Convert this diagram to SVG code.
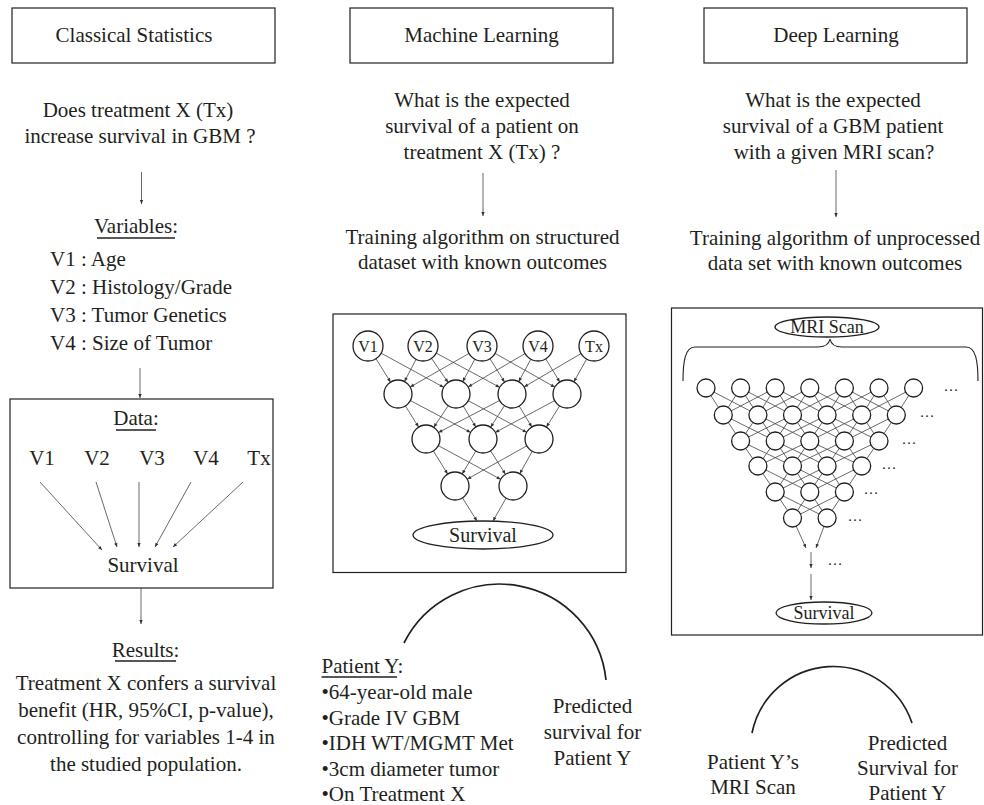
<svg xmlns="http://www.w3.org/2000/svg" width="984" height="805" viewBox="0 0 984 805">
<style>
.t{font-family:"Liberation Serif","Times New Roman",serif;font-size:21px;fill:#231f20}
.m{text-anchor:middle}
.s16{font-size:16px}
.s18{font-size:18px}
.s20{font-size:20px}
.dots{font-size:15px;text-anchor:middle}
.box{fill:none;stroke:#231f20;stroke-width:1.2}
.ln{stroke:#444;stroke-width:0.8;fill:none}
.node{fill:#fff;stroke:#231f20;stroke-width:1.3}
.ul{stroke:#231f20;stroke-width:1.6}
.arc{fill:none;stroke:#231f20;stroke-width:1.7}
</style>
<defs>
<marker id="ah" overflow="visible" markerUnits="userSpaceOnUse" orient="auto"><path d="M-4,-1.7 L0,0 L-4,1.7 z" fill="#333"/></marker>
<marker id="ah14" overflow="visible" markerUnits="userSpaceOnUse" orient="auto" refX="14" refY="0"><path d="M-4,-1.7 L0,0 L-4,1.7 z" fill="#333"/></marker>
</defs>
<rect width="984" height="805" fill="#fff"/>

<g id="connectors">
<!-- classical -->
<line class="ln" x1="141.5" y1="172" x2="141.5" y2="204" marker-end="url(#ah)"/>
<line class="ln" x1="140" y1="368" x2="140" y2="398" marker-end="url(#ah)"/>
<line class="ln" x1="141" y1="588" x2="141" y2="624" marker-end="url(#ah)"/>
<line class="ln" x1="40" y1="482" x2="102" y2="550" marker-end="url(#ah)"/>
<line class="ln" x1="96" y1="482" x2="117" y2="547" marker-end="url(#ah)"/>
<line class="ln" x1="139" y1="482" x2="139" y2="547" marker-end="url(#ah)"/>
<line class="ln" x1="191" y1="482" x2="155" y2="547" marker-end="url(#ah)"/>
<line class="ln" x1="243" y1="482" x2="173" y2="547" marker-end="url(#ah)"/>
<!-- ML -->
<line class="ln" x1="483" y1="173" x2="483" y2="216" marker-end="url(#ah)"/>
<g marker-end="url(#ah14)">
<line class="ln" x1="368" y1="346" x2="398" y2="394"/>
<line class="ln" x1="368" y1="346" x2="456" y2="394"/>
<line class="ln" x1="423" y1="346" x2="398" y2="394"/>
<line class="ln" x1="423" y1="346" x2="456" y2="394"/>
<line class="ln" x1="423" y1="346" x2="512" y2="394"/>
<line class="ln" x1="482" y1="346" x2="398" y2="394"/>
<line class="ln" x1="482" y1="346" x2="456" y2="394"/>
<line class="ln" x1="482" y1="346" x2="512" y2="394"/>
<line class="ln" x1="482" y1="346" x2="567" y2="394"/>
<line class="ln" x1="538" y1="346" x2="456" y2="394"/>
<line class="ln" x1="538" y1="346" x2="512" y2="394"/>
<line class="ln" x1="538" y1="346" x2="567" y2="394"/>
<line class="ln" x1="594" y1="346" x2="512" y2="394"/>
<line class="ln" x1="594" y1="346" x2="567" y2="394"/>
<line class="ln" x1="398" y1="394" x2="426" y2="439"/>
<line class="ln" x1="398" y1="394" x2="483" y2="439"/>
<line class="ln" x1="456" y1="394" x2="426" y2="439"/>
<line class="ln" x1="456" y1="394" x2="483" y2="439"/>
<line class="ln" x1="456" y1="394" x2="539" y2="439"/>
<line class="ln" x1="512" y1="394" x2="426" y2="439"/>
<line class="ln" x1="512" y1="394" x2="483" y2="439"/>
<line class="ln" x1="512" y1="394" x2="539" y2="439"/>
<line class="ln" x1="567" y1="394" x2="483" y2="439"/>
<line class="ln" x1="567" y1="394" x2="539" y2="439"/>
<line class="ln" x1="426" y1="439" x2="455" y2="486"/>
<line class="ln" x1="426" y1="439" x2="513" y2="486"/>
<line class="ln" x1="483" y1="439" x2="455" y2="486"/>
<line class="ln" x1="483" y1="439" x2="513" y2="486"/>
<line class="ln" x1="539" y1="439" x2="455" y2="486"/>
<line class="ln" x1="539" y1="439" x2="513" y2="486"/>
</g>
<line class="ln" x1="455" y1="486" x2="477" y2="521" marker-end="url(#ah)"/>
<line class="ln" x1="513" y1="486" x2="493" y2="521" marker-end="url(#ah)"/>
<!-- DL -->
<line class="ln" x1="836" y1="170" x2="836" y2="217" marker-end="url(#ah)"/>
<path class="ln" d="M706 388L723.3 415M706 388L757.9 415M740.6 388L723.3 415M740.6 388L757.9 415M740.6 388L792.5 415M775.2 388L723.3 415M775.2 388L757.9 415M775.2 388L792.5 415M775.2 388L827.1 415M809.8 388L757.9 415M809.8 388L792.5 415M809.8 388L827.1 415M809.8 388L861.7 415M844.4 388L792.5 415M844.4 388L827.1 415M844.4 388L861.7 415M844.4 388L896.3 415M879 388L827.1 415M879 388L861.7 415M879 388L896.3 415M913.6 388L861.7 415M913.6 388L896.3 415"/>
<path class="ln" d="M723.3 415L740.6 441M723.3 415L775.2 441M757.9 415L740.6 441M757.9 415L775.2 441M757.9 415L809.8 441M792.5 415L740.6 441M792.5 415L775.2 441M792.5 415L809.8 441M792.5 415L844.4 441M827.1 415L775.2 441M827.1 415L809.8 441M827.1 415L844.4 441M827.1 415L879 441M861.7 415L809.8 441M861.7 415L844.4 441M861.7 415L879 441M896.3 415L844.4 441M896.3 415L879 441"/>
<path class="ln" d="M740.6 441L757.9 466M740.6 441L792.5 466M775.2 441L757.9 466M775.2 441L792.5 466M775.2 441L827.1 466M809.8 441L757.9 466M809.8 441L792.5 466M809.8 441L827.1 466M809.8 441L861.7 466M844.4 441L792.5 466M844.4 441L827.1 466M844.4 441L861.7 466M879 441L827.1 466M879 441L861.7 466"/>
<path class="ln" d="M757.9 466L775.2 492M757.9 466L809.8 492M792.5 466L775.2 492M792.5 466L809.8 492M792.5 466L844.4 492M827.1 466L775.2 492M827.1 466L809.8 492M827.1 466L844.4 492M861.7 466L809.8 492M861.7 466L844.4 492"/>
<path class="ln" d="M775.2 492L792.5 518M775.2 492L827.1 518M809.8 492L792.5 518M809.8 492L827.1 518M844.4 492L792.5 518M844.4 492L827.1 518"/>
<line class="ln" x1="792.5" y1="518" x2="806" y2="548" marker-end="url(#ah)"/>
<line class="ln" x1="827.1" y1="518" x2="816" y2="548" marker-end="url(#ah)"/>
<line class="ln" x1="811" y1="552" x2="811" y2="568" marker-end="url(#ah)"/>
<line class="ln" x1="811" y1="574" x2="811" y2="600" marker-end="url(#ah)"/>
<path class="ln" style="stroke:#231f20;stroke-width:1.1" d="M683 381C683 362 685 347 695 347L818 347C825 347 829 344 830 339C831 344 835 347 842 347L966 347C976 347 978 362 978 381"/>
<!-- arcs -->
<path class="arc" d="M404 643A107 107 0 0 1 606 680"/>
<path class="arc" d="M752 733A83 83 0 0 1 912 723"/>
</g>

<!-- Classical statistics column -->
<g id="cs-title"><rect class="box" x="12" y="8" width="263" height="55"/><text class="t m" x="134" y="42">Classical Statistics</text></g>
<g id="cs-question"><text class="t m" x="138" y="117">Does treatment X (Tx)</text><text class="t m" x="140" y="143">increase survival in GBM ?</text></g>
<g id="cs-variables">
<text class="t m" x="136" y="233">Variables:</text><line class="ul" x1="97" y1="238" x2="175" y2="238"/>
<text class="t" x="50" y="266">V1 : Age</text>
<text class="t" x="50" y="294">V2 : Histology/Grade</text>
<text class="t" x="50" y="322">V3 : Tumor Genetics</text>
<text class="t" x="50" y="350">V4 : Size of Tumor</text>
</g>
<g id="cs-data">
<rect class="box" x="10" y="399" width="263" height="189"/>
<text class="t m" x="136" y="425">Data:</text><line class="ul" x1="116" y1="430" x2="156" y2="430"/>
<text class="t m" x="42" y="465">V1</text>
<text class="t m" x="97" y="465">V2</text>
<text class="t m" x="152" y="465">V3</text>
<text class="t m" x="206" y="465">V4</text>
<text class="t m" x="259" y="465">Tx</text>
<text class="t m" x="143" y="572">Survival</text>
</g>
<g id="cs-results">
<text class="t m" x="145.5" y="657">Results:</text><line class="ul" x1="115" y1="661" x2="176" y2="661"/>
<text class="t m" x="146" y="690">Treatment X confers a survival</text>
<text class="t m" x="146" y="717">benefit (HR, 95%CI, p-value),</text>
<text class="t m" x="146" y="744">controlling for variables 1-4 in</text>
<text class="t m" x="146" y="771">the studied population.</text>
</g>

<!-- Machine learning column -->
<g id="ml-title"><rect class="box" x="350" y="8" width="263" height="55"/><text class="t m" x="481.5" y="42">Machine Learning</text></g>
<g id="ml-question">
<text class="t m" x="482" y="107">What is the expected</text>
<text class="t m" x="482" y="133">survival of a patient on</text>
<text class="t m" x="482" y="159">treatment X (Tx) ?</text>
</g>
<g id="ml-training">
<text class="t m" x="482.5" y="244">Training algorithm on structured</text>
<text class="t m" x="482.5" y="269">dataset with known outcomes</text>
</g>
<g id="ml-network-box"><rect class="box" x="333" y="314" width="293" height="258.5"/></g>
<g id="ml-v1"><circle class="node" cx="368" cy="346" r="15"/><text class="t m s16" x="368" y="351.5">V1</text></g>
<g id="ml-v2"><circle class="node" cx="423" cy="346" r="15"/><text class="t m s16" x="423" y="351.5">V2</text></g>
<g id="ml-v3"><circle class="node" cx="482" cy="346" r="15"/><text class="t m s16" x="482" y="351.5">V3</text></g>
<g id="ml-v4"><circle class="node" cx="538" cy="346" r="15"/><text class="t m s16" x="538" y="351.5">V4</text></g>
<g id="ml-tx"><circle class="node" cx="594" cy="346" r="15"/><text class="t m s16" x="594" y="351.5">Tx</text></g>
<g id="ml-h1"><circle class="node" cx="398" cy="394" r="14"/></g>
<g id="ml-h2"><circle class="node" cx="456" cy="394" r="14"/></g>
<g id="ml-h3"><circle class="node" cx="512" cy="394" r="14"/></g>
<g id="ml-h4"><circle class="node" cx="567" cy="394" r="14"/></g>
<g id="ml-m1"><circle class="node" cx="426" cy="439" r="14"/></g>
<g id="ml-m2"><circle class="node" cx="483" cy="439" r="14"/></g>
<g id="ml-m3"><circle class="node" cx="539" cy="439" r="14"/></g>
<g id="ml-l1"><circle class="node" cx="455" cy="486" r="14"/></g>
<g id="ml-l2"><circle class="node" cx="513" cy="486" r="14"/></g>
<g id="ml-survival"><ellipse class="node" cx="483" cy="535" rx="70" ry="14"/><text class="t m s20" x="483" y="541.5">Survival</text></g>
<g id="ml-patient">
<text class="t" x="321.5" y="673">Patient Y:</text><line class="ul" x1="321.5" y1="677" x2="397" y2="677"/>
<text class="t" x="321.5" y="699">•64-year-old male</text>
<text class="t" x="321.5" y="724.5">•Grade IV GBM</text>
<text class="t" x="321.5" y="750">•IDH WT/MGMT Met</text>
<text class="t" x="321.5" y="775.5">•3cm diameter tumor</text>
<text class="t" x="321.5" y="800.5">•On Treatment X</text>
</g>
<g id="ml-predicted">
<text class="t m" x="592.5" y="713">Predicted</text>
<text class="t m" x="592.5" y="739">survival for</text>
<text class="t m" x="592.5" y="765">Patient Y</text>
</g>

<!-- Deep learning column -->
<g id="dl-title"><rect class="box" x="704" y="8" width="263" height="55"/><text class="t m" x="836" y="42">Deep Learning</text></g>
<g id="dl-question">
<text class="t m" x="833" y="107">What is the expected</text>
<text class="t m" x="833" y="133">survival of a GBM patient</text>
<text class="t m" x="834" y="159">with a given MRI scan?</text>
</g>
<g id="dl-training">
<text class="t m" x="835" y="245">Training algorithm of unprocessed</text>
<text class="t m" x="835" y="270">data set with known outcomes</text>
</g>
<g id="dl-network-box"><rect class="box" x="671.5" y="308" width="311" height="327"/></g>
<g id="dl-mri"><ellipse class="node" cx="827" cy="327" rx="52" ry="10"/><text class="t m s18" x="827" y="333">MRI Scan</text></g>
<g id="dl-a0"><circle class="node" cx="706" cy="388" r="9"/></g>
<g id="dl-a1"><circle class="node" cx="740.6" cy="388" r="9"/></g>
<g id="dl-a2"><circle class="node" cx="775.2" cy="388" r="9"/></g>
<g id="dl-a3"><circle class="node" cx="809.8" cy="388" r="9"/></g>
<g id="dl-a4"><circle class="node" cx="844.4" cy="388" r="9"/></g>
<g id="dl-a5"><circle class="node" cx="879" cy="388" r="9"/></g>
<g id="dl-a6"><circle class="node" cx="913.6" cy="388" r="9"/></g>
<g id="dl-b0"><circle class="node" cx="723.3" cy="415" r="9"/></g>
<g id="dl-b1"><circle class="node" cx="757.9" cy="415" r="9"/></g>
<g id="dl-b2"><circle class="node" cx="792.5" cy="415" r="9"/></g>
<g id="dl-b3"><circle class="node" cx="827.1" cy="415" r="9"/></g>
<g id="dl-b4"><circle class="node" cx="861.7" cy="415" r="9"/></g>
<g id="dl-b5"><circle class="node" cx="896.3" cy="415" r="9"/></g>
<g id="dl-c0"><circle class="node" cx="740.6" cy="441" r="9"/></g>
<g id="dl-c1"><circle class="node" cx="775.2" cy="441" r="9"/></g>
<g id="dl-c2"><circle class="node" cx="809.8" cy="441" r="9"/></g>
<g id="dl-c3"><circle class="node" cx="844.4" cy="441" r="9"/></g>
<g id="dl-c4"><circle class="node" cx="879" cy="441" r="9"/></g>
<g id="dl-d0"><circle class="node" cx="757.9" cy="466" r="9"/></g>
<g id="dl-d1"><circle class="node" cx="792.5" cy="466" r="9"/></g>
<g id="dl-d2"><circle class="node" cx="827.1" cy="466" r="9"/></g>
<g id="dl-d3"><circle class="node" cx="861.7" cy="466" r="9"/></g>
<g id="dl-e0"><circle class="node" cx="775.2" cy="492" r="9"/></g>
<g id="dl-e1"><circle class="node" cx="809.8" cy="492" r="9"/></g>
<g id="dl-e2"><circle class="node" cx="844.4" cy="492" r="9"/></g>
<g id="dl-f0"><circle class="node" cx="792.5" cy="518" r="9"/></g>
<g id="dl-f1"><circle class="node" cx="827.1" cy="518" r="9"/></g>
<g id="dl-ellipses">
<text class="t dots" x="951" y="391">…</text>
<text class="t dots" x="927" y="417">…</text>
<text class="t dots" x="909" y="444">…</text>
<text class="t dots" x="889" y="469">…</text>
<text class="t dots" x="871" y="494">…</text>
<text class="t dots" x="855" y="521">…</text>
<text class="t dots" x="835" y="565">…</text>
</g>
<g id="dl-survival"><ellipse class="node" cx="824" cy="613" rx="48" ry="11"/><text class="t m s18" x="824" y="619">Survival</text></g>
<g id="dl-patient">
<text class="t m" x="753" y="769">Patient Y’s</text>
<text class="t m" x="753" y="794">MRI Scan</text>
</g>
<g id="dl-predicted">
<text class="t m" x="907.5" y="750">Predicted</text>
<text class="t m" x="907.5" y="775">Survival for</text>
<text class="t m" x="907.5" y="800">Patient Y</text>
</g>
</svg>
